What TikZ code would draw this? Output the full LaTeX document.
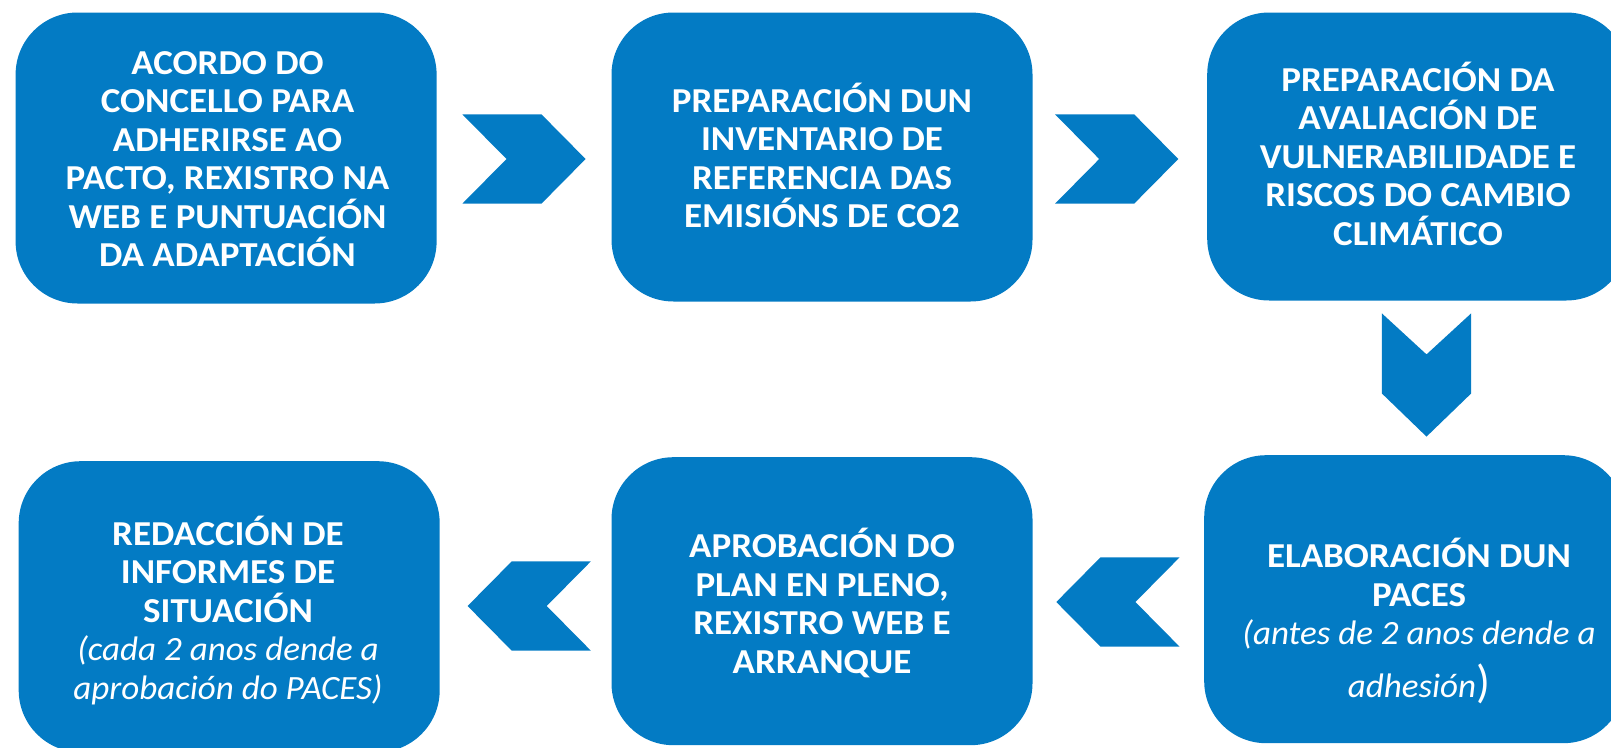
\documentclass[tikz,border=0pt]{standalone}
\usepackage{fontspec}
\setmainfont{Carlito}[BoldFeatures={FakeStretch=1.058},ItalicFeatures={FakeStretch=1.03}]
\definecolor{pblue}{HTML}{037BC4}
\newcommand{\notefnt}{\mdseries\itshape\fontsize{34}{38.5}\selectfont}
\begin{document}
\begin{tikzpicture}[x=1pt,y=-1pt,
  box/.style={fill=pblue, draw=none, rounded corners=62pt, inner sep=0pt, anchor=north west},
  lbl/.style={text=white, align=center, anchor=north, inner sep=0pt,
    font=\bfseries\fontsize{35}{38.5}\selectfont, execute at begin node=\strut},
  chevR/.pic={\fill[pblue] (-61.6,-44.6) -- (17.5,-44.6) -- (61.6,0) -- (17.5,44.6) -- (-61.6,44.6) -- (-17.5,0) -- cycle;},
  chevL/.pic={\fill[pblue] (61.6,-44.6) -- (-17.5,-44.6) -- (-61.6,0) -- (-17.5,44.6) -- (61.6,44.6) -- (17.5,0) -- cycle;},
  chevD/.pic={\fill[pblue] (-44.6,-61.6) -- (0,-20.6) -- (44.6,-61.6) -- (44.6,18.5) -- (0,61.6) -- (-44.6,18.5) -- cycle;}
]
\useasboundingbox (0,0) rectangle (1611,747);
\clip (0,0) rectangle (1611,747);
% boxes
\node[box, minimum width=421pt, minimum height=291pt] (b1) at (15.4,12.3) {};
\node[box, minimum width=421pt, minimum height=289pt] (b2) at (611.3,12.3) {};
\node[box, minimum width=421pt, minimum height=288pt] (b3) at (1207,12.3) {};
\node[box, minimum width=421pt, minimum height=288pt] (b4) at (1204,455) {};
\node[box, minimum width=421pt, minimum height=288pt] (b5) at (611.3,457) {};
\node[box, minimum width=421pt, minimum height=291pt] (b6) at (18.5,461) {};
% chevrons
\pic at (524,159) {chevR};
\pic at (1116.7,159) {chevR};
\pic at (1426.5,375) {chevD};
\pic at (1117.9,602) {chevL};
\pic at (529.2,606) {chevL};
% texts
\node[lbl] (t1) at (227.5,51) {ACORDO DO\\CONCELLO PARA\\ADHERIRSE AO\\PACTO, REXISTRO NA\\WEB E PUNTUACIÓN\\DA ADAPTACIÓN};
\node[lbl] (t2) at (822,82.5) {PREPARACIÓN DUN\\INVENTARIO DE\\REFERENCIA DAS\\EMISIÓNS DE CO2};
\node[lbl] (t3) at (1418,61.5) {PREPARACIÓN DA\\AVALIACIÓN DE\\VULNERABILIDADE E\\RISCOS DO CAMBIO\\CLIMÁTICO};
\node[lbl] (t4) at (1419,538) {ELABORACIÓN DUN\\PACES\\{\notefnt (antes de 2 anos dende a}\\[14.8pt]{\notefnt adhesión{\upshape\fontsize{46}{46}\selectfont)}}};
\node[lbl] (t5) at (822,528) {APROBACIÓN DO\\PLAN EN PLENO,\\REXISTRO WEB E\\ARRANQUE};
\node[lbl] (t6) at (228,515.7) {REDACCIÓN DE\\INFORMES DE\\SITUACIÓN\\{\notefnt (cada 2 anos dende a}\\{\notefnt aprobación do PACES)}};
\end{tikzpicture}
\end{document}
